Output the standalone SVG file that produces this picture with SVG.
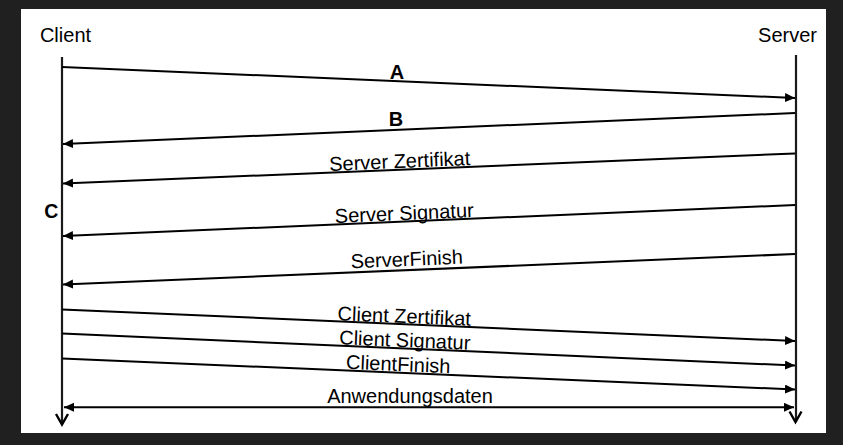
<svg xmlns="http://www.w3.org/2000/svg" width="843" height="445" viewBox="0 0 843 445">
  <defs>
    <marker id="arr" markerUnits="userSpaceOnUse" markerWidth="11" markerHeight="10" refX="10" refY="4.5" orient="auto-start-reverse">
      <path d="M0,0 L10,4.5 L0,9 z" fill="#000"/>
    </marker>
  </defs>
  <style>
    .lbl { font-family: "Liberation Sans", Arial, sans-serif; font-size: 20px; fill: #000; text-anchor: middle; }
    .bold { font-weight: bold; }
    .msg { stroke: #000; stroke-width: 2; fill: none; marker-end: url(#arr); }
    .life { stroke: #1a1a1a; stroke-width: 2.2; fill: none; }
    .vhead { stroke: #000; stroke-width: 2.4; fill: none; }
  </style>
  <rect x="0" y="0" width="843" height="445" fill="#202020"/>
  <rect x="21" y="9" width="805" height="424" fill="#fff"/>

  <g id="client">
    <text class="lbl" x="65.5" y="42">Client</text>
    <line class="life" x1="62" y1="57" x2="62" y2="424"/>
    <polyline class="vhead" points="56,414 62,424.5 68,414"/>
  </g>
  <g id="server">
    <text class="lbl" x="787.5" y="42">Server</text>
    <line class="life" x1="796" y1="55" x2="796" y2="422"/>
    <polyline class="vhead" points="789.5,411.5 795.5,422 801.5,411.5"/>
  </g>

  <g id="connectors">
    <line class="msg" x1="62" y1="67" x2="795" y2="98"/>
    <line class="msg" x1="795" y1="113" x2="63" y2="144"/>
    <line class="msg" x1="795" y1="153.5" x2="63" y2="183.5"/>
    <line class="msg" x1="795" y1="205" x2="63" y2="236"/>
    <line class="msg" x1="795" y1="254" x2="63" y2="284.5"/>
    <line class="msg" x1="62" y1="309.5" x2="795" y2="341"/>
    <line class="msg" x1="62" y1="333.5" x2="795" y2="365.5"/>
    <line class="msg" x1="62" y1="358.5" x2="795" y2="389.5"/>
    <line class="msg" x1="64" y1="407.3" x2="794" y2="407.3" marker-start="url(#arr)"/>
  </g>

  <g id="labels">
    <text class="lbl bold" x="397" y="79">A</text>
    <text class="lbl bold" x="396" y="125.5">B</text>
    <text class="lbl bold" x="51.3" y="217.5" style="font-size:19.5px">C</text>
    <text class="lbl" x="400" y="168" transform="rotate(-2.4 400 168)">Server Zertifikat</text>
    <text class="lbl" x="404.5" y="220" transform="rotate(-2.4 404.5 220)">Server Signatur</text>
    <text class="lbl" x="407" y="266" transform="rotate(-2.4 407 266)">ServerFinish</text>
    <text class="lbl" x="404" y="323" transform="rotate(2.4 404 323)">Client Zertifikat</text>
    <text class="lbl" x="404.5" y="347" transform="rotate(2.4 404.5 347)">Client Signatur</text>
    <text class="lbl" x="398" y="371" transform="rotate(2.4 398 371)">ClientFinish</text>
    <text class="lbl" x="410" y="403.3">Anwendungsdaten</text>
  </g>
</svg>
